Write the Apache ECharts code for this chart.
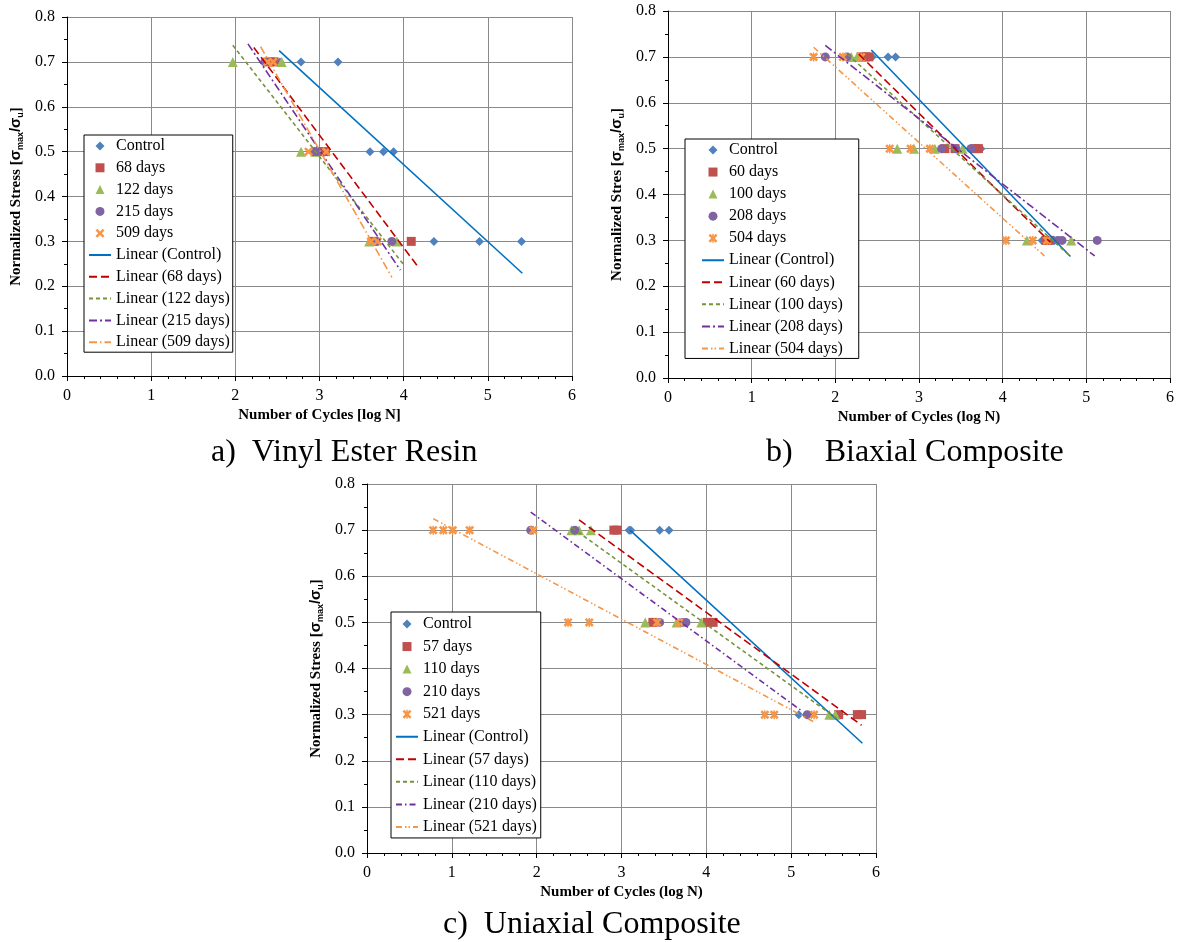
<!DOCTYPE html>
<html><head><meta charset="utf-8">
<script src="https://cdn.jsdelivr.net/npm/echarts@6/dist/echarts.min.js"></script>
<style>html,body{margin:0;padding:0;background:#fff}#c{width:1187px;height:942px}</style>
</head><body><div id="c"></div>
<script>
// ---------- Panel a: Vinyl Ester Resin ----------
const aNames = ['Control', '68 days', '122 days', '215 days', '509 days'];
const aControl = [[2.53,0.7],[2.78,0.7],[3.22,0.7],[3.60,0.5],[3.76,0.5],[3.88,0.5],[4.36,0.3],[4.90,0.3],[5.40,0.3]];
const a68 = [[2.41,0.7],[2.46,0.7],[2.98,0.5],[3.07,0.5],[3.65,0.3],[4.09,0.3]];
const a122 = [[1.97,0.7],[2.55,0.7],[2.78,0.5],[2.95,0.5],[3.59,0.3],[3.92,0.3]];
const a215 = [[2.35,0.7],[2.93,0.5],[2.97,0.5],[3.67,0.3],[3.86,0.3]];
const a509 = [[2.38,0.7],[2.45,0.7],[2.87,0.5],[3.08,0.5],[3.61,0.3],[3.69,0.3]];
const aTrendNames = ['Linear (Control)', 'Linear (68 days)', 'Linear (122 days)', 'Linear (215 days)', 'Linear (509 days)'];
// trend line end points: [x1, y1, x2, y2]
const aTrends = [[2.52,0.725,5.41,0.229],[2.22,0.732,4.16,0.246],[1.97,0.737,4.00,0.248],[2.15,0.740,3.96,0.236],[2.30,0.734,3.86,0.220]];

// ---------- Panel b: Biaxial Composite ----------
const bNames = ['Control', '60 days', '100 days', '208 days', '504 days'];
const bControl = [[2.44,0.7],[2.63,0.7],[2.72,0.7],[3.62,0.5],[3.74,0.5],[4.47,0.3],[4.62,0.3]];
const b60 = [[2.31,0.7],[2.36,0.7],[2.40,0.7],[3.31,0.5],[3.43,0.5],[3.67,0.5],[3.71,0.5],[4.52,0.3],[4.56,0.3]];
const b100 = [[2.19,0.7],[2.26,0.7],[2.74,0.5],[2.94,0.5],[3.19,0.5],[3.52,0.5],[4.29,0.3],[4.82,0.3]];
const b208 = [[1.88,0.7],[2.14,0.7],[3.27,0.5],[3.44,0.5],[3.62,0.5],[4.66,0.3],[4.71,0.3],[5.13,0.3]];
const b504 = [[1.74,0.7],[2.09,0.7],[2.31,0.7],[2.65,0.5],[2.90,0.5],[3.13,0.5],[4.04,0.3],[4.36,0.3],[4.53,0.3]];
const bTrendNames = ['Linear (Control)', 'Linear (60 days)', 'Linear (100 days)', 'Linear (208 days)', 'Linear (504 days)'];
const bTrends = [[2.43,0.715,4.81,0.265],[2.28,0.706,4.57,0.296],[2.15,0.705,4.81,0.265],[1.88,0.725,5.10,0.266],[1.74,0.721,4.50,0.266]];

// ---------- Panel c: Uniaxial Composite ----------
const cNames = ['Control', '57 days', '110 days', '210 days', '521 days'];
const cControl = [[3.09,0.7],[3.11,0.7],[3.45,0.7],[3.56,0.7],[5.09,0.3],[5.81,0.3]];
const c57 = [[2.91,0.7],[2.95,0.7],[3.37,0.5],[4.01,0.5],[4.08,0.5],[5.56,0.3],[5.78,0.3],[5.83,0.3]];
const c110 = [[2.41,0.7],[2.50,0.7],[2.64,0.7],[3.28,0.5],[3.65,0.5],[3.94,0.5],[5.45,0.3],[5.52,0.3]];
const c210 = [[1.93,0.7],[2.45,0.7],[3.45,0.5],[3.72,0.5],[3.76,0.5],[5.19,0.3]];
const c521 = [[0.78,0.7],[0.90,0.7],[1.01,0.7],[1.21,0.7],[1.96,0.7],[2.37,0.5],[2.62,0.5],[3.42,0.5],[3.68,0.5],[4.69,0.3],[4.80,0.3],[5.27,0.3]];
const cTrendNames = ['Linear (Control)', 'Linear (57 days)', 'Linear (110 days)', 'Linear (210 days)', 'Linear (521 days)'];
const cTrends = [[3.10,0.700,5.84,0.238],[2.50,0.722,5.83,0.277],[2.42,0.705,5.55,0.290],[1.93,0.739,5.11,0.310],[0.78,0.725,5.26,0.285]];

// ---------- Texts ----------
const xTitles = ['Number of Cycles [log N]', 'Number of Cycles (log N)', 'Number of Cycles (log N)'];
const yTitleWords = ['Normalized Stress [', 'Normalized Stres [', 'Normalized Stress ['];
const captions = ['a)  Vinyl Ester Resin', 'b)    Biaxial Composite', 'c)  Uniaxial Composite'];

// ---------- Styles ----------
const SERIF = 'Liberation Serif, serif';
const SANS = 'Liberation Sans, sans-serif';
const markerColors = ['#4F81BD', '#C0504D', '#9BBB59', '#8064A2', '#F79646'];
const lineColors = ['#0070C0', '#C00000', '#77933C', '#7030A0', '#F79646'];
const X_PATH = 'path://M2,0L5,3L8,0L10,2L7,5L10,8L8,10L5,7L2,10L0,8L3,5L0,2Z';
const STAR_PATH = 'path://M2,0L5,3L8,0L10,2L7,5L10,8L8,10L5,7L2,10L0,8L3,5L0,2ZM4.2,0L5.8,0L5.8,10L4.2,10Z';
const DIAMOND_PATH = 'path://M5,0L10,5L5,10L0,5Z';
const RECT_PATH = 'path://M0,0L10,0L10,10L0,10Z';
const TRI_PATH = 'path://M5,0L10,10L0,10Z';
const CIRCLE_PATH = 'path://M5,0A5,5,0,1,1,4.99,0Z';
const symA = ['diamond', 'rect', 'triangle', 'circle', X_PATH];
const symBC = ['diamond', 'rect', 'triangle', 'circle', STAR_PATH];
const iconA = [DIAMOND_PATH, RECT_PATH, TRI_PATH, 'circle', X_PATH];
const iconBC = [DIAMOND_PATH, RECT_PATH, TRI_PATH, 'circle', STAR_PATH];
const symSizes = [9, 9, 10, 9, 9];
const dashA = ['solid', [8,4], [4,3], [8,3,2,3], [8,3,1.5,3]];
const dashB = ['solid', [8,4], [4,3], [8,3,2,3], [6,3,1.5,2,1.5,3]];
const dashC = ['solid', [8,4], [4,3], [6,3,1.5,3], [6,3,1.5,2,1.5,3]];

const gridRects = [
  {left: 67, top: 17, width: 505, height: 359},
  {left: 668, top: 11, width: 502, height: 367},
  {left: 367, top: 484, width: 509, height: 369}
];
const legendPos = [
  {left: 84, top: 135, itemGap: 5.8, padding: [3, 3, 2, 4]},
  {left: 685, top: 139, itemGap: 6.05, padding: [3, 16, 2, 16]},
  {left: 391, top: 612, itemGap: 6.55, padding: [4, 4, 3, 4]}
];
const captionPos = [{left: 211, top: 437}, {left: 766, top: 437}, {left: 443, top: 909}];

const series = [];
function addPanel(idx, names, pts, tNames, trends, syms, dashes) {
  names.forEach((n, i) => series.push({
    type: 'scatter', name: n, xAxisIndex: idx, yAxisIndex: idx, data: pts[i],
    symbol: syms[i], symbolSize: symSizes[i], symbolKeepAspect: true,
    itemStyle: {color: markerColors[i], opacity: 1},
    z: 2, silent: true
  }));
  tNames.forEach((n, i) => series.push({
    type: 'line', name: n, xAxisIndex: idx, yAxisIndex: idx,
    data: [[trends[i][0], trends[i][1]], [trends[i][2], trends[i][3]]],
    symbol: 'none', lineStyle: {color: lineColors[i], width: 1.6, type: dashes[i]},
    itemStyle: {color: lineColors[i]}, z: 3, silent: true
  }));
}
addPanel(0, aNames, [aControl, a68, a122, a215, a509], aTrendNames, aTrends, symA, dashA);
addPanel(1, bNames, [bControl, b60, b100, b208, b504], bTrendNames, bTrends, symBC, dashB);
addPanel(2, cNames, [cControl, c57, c110, c210, c521], cTrendNames, cTrends, symBC, dashC);

const xAxes = [0,1,2].map(i => ({
  type: 'value', gridIndex: i, min: 0, max: 6, interval: 1,
  name: xTitles[i], nameLocation: 'middle', nameGap: 32,
  nameTextStyle: {fontFamily: SERIF, fontWeight: 'bold', fontSize: 15, color: '#000'},
  axisLine: {show: true, onZero: false, lineStyle: {color: '#000', width: 1}},
  axisTick: {show: true, length: 5, lineStyle: {color: '#000'}},
  minorTick: {show: true, splitNumber: 5, length: 3, lineStyle: {color: '#000'}},
  splitLine: {show: true, lineStyle: {color: '#8a8a8a', width: 1}},
  axisLabel: {fontFamily: SERIF, fontSize: 16, color: '#000', margin: 12}
}));
const yAxes = [0,1,2].map(i => ({
  type: 'value', gridIndex: i, min: 0, max: 0.8, interval: 0.1,
  name: '{t|' + yTitleWords[i] + '}{g|σ}{s|max}{g|/σ}{s|u}{t|]}',
  nameLocation: 'middle', nameGap: 42,
  nameTextStyle: {rich: {
    t: {fontFamily: SERIF, fontWeight: 'bold', fontSize: 15, lineHeight: 18, color: '#000'},
    g: {fontFamily: SANS, fontWeight: 'bold', fontSize: 15, lineHeight: 18, color: '#000'},
    s: {fontFamily: SANS, fontWeight: 'bold', fontSize: 9, lineHeight: 10, verticalAlign: 'bottom', color: '#000'}
  }},
  axisLine: {show: true, onZero: false, lineStyle: {color: '#000', width: 1}},
  axisTick: {show: true, length: 5, lineStyle: {color: '#000'}},
  minorTick: {show: true, splitNumber: 2, length: 3, lineStyle: {color: '#000'}},
  splitLine: {show: true, lineStyle: {color: '#8a8a8a', width: 1}},
  axisLabel: {fontFamily: SERIF, fontSize: 16, color: '#000', margin: 12, formatter: v => v.toFixed(1)}
}));

function legendItems(names, tNames, icons) {
  return names.map((n, i) => ({name: n, icon: icons[i]}))
    .concat(tNames.map(n => ({name: n, itemStyle: {opacity: 0, color: 'rgba(0,0,0,0)', borderWidth: 0}})));
}
const legendData = [legendItems(aNames, aTrendNames, iconA), legendItems(bNames, bTrendNames, iconBC), legendItems(cNames, cTrendNames, iconBC)];
const legends = [0,1,2].map(i => ({
  orient: 'vertical', left: legendPos[i].left, top: legendPos[i].top,
  data: legendData[i], itemWidth: 22, itemHeight: 9, itemGap: legendPos[i].itemGap,
  symbolKeepAspect: true,
  padding: legendPos[i].padding, borderColor: '#000', borderWidth: 1, backgroundColor: '#fff',
  textStyle: {fontFamily: SERIF, fontSize: 16, color: '#000'}, selectedMode: false, z: 10
}));

const titles = [0,1,2].map(i => ({
  text: captions[i], left: captionPos[i].left, top: captionPos[i].top, padding: 0,
  textStyle: {fontFamily: SERIF, fontSize: 32, fontWeight: 'normal', color: '#000'}
}));

const chart = echarts.init(document.getElementById('c'));
chart.setOption({
  animation: false,
  backgroundColor: '#fff',
  title: titles,
  grid: gridRects,
  xAxis: xAxes,
  yAxis: yAxes,
  legend: legends,
  series: series
});
</script></body></html>
